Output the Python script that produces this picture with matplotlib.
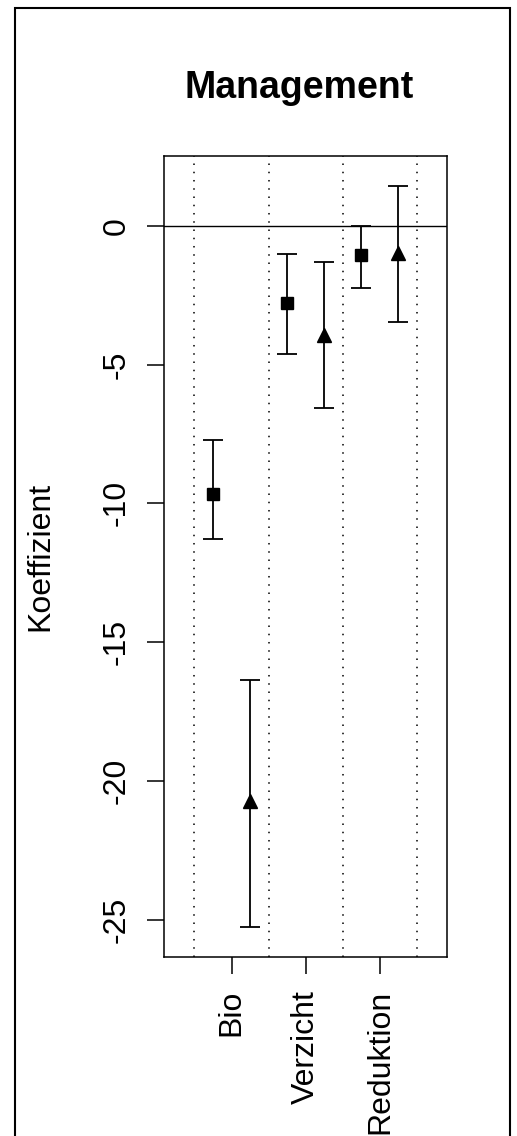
import matplotlib
matplotlib.use("Agg")
import matplotlib.pyplot as plt
from matplotlib.patches import Rectangle

plt.rcParams['font.family'] = ['Liberation Sans', 'DejaVu Sans']

# Daten
kategorien = ['Bio', 'Verzicht', 'Reduktion']
koef_quadrat = [-9.67, -2.77, -1.06]
unten_quadrat = [-11.29, -4.62, -2.23]
oben_quadrat = [-7.72, -1.02, -0.02]
koef_dreieck = [-20.7, -3.94, -0.98]
unten_dreieck = [-25.25, -6.56, -3.47]
oben_dreieck = [-16.36, -1.31, 1.44]
y_ticks = [0, -5, -10, -15, -20, -25]

pos = [1, 2, 3]
versatz = 0.25

fig = plt.figure(figsize=(5.17, 11.36), dpi=100)
ax = fig.add_axes([164 / 517, 1 - 956.7 / 1136, (446.7 - 164) / 517, (956.7 - 155.7) / 1136])

# Trennlinien und Nulllinie
for g in [0.5, 1.5, 2.5, 3.5]:
    ax.axvline(g, color='black', lw=1.1, linestyle=(0, (1, 4.4)))
ax.axhline(0, color='black', lw=1.0)

x1 = [p - versatz for p in pos]
x2 = [p + versatz for p in pos]
fehler1 = [[k - u for k, u in zip(koef_quadrat, unten_quadrat)],
           [o - k for k, o in zip(koef_quadrat, oben_quadrat)]]
fehler2 = [[k - u for k, u in zip(koef_dreieck, unten_dreieck)],
           [o - k for k, o in zip(koef_dreieck, oben_dreieck)]]

ax.errorbar(x1, koef_quadrat, yerr=fehler1, fmt='s', color='black', ms=8.5,
            capsize=7.2, elinewidth=1.3, capthick=1.3)
ax.errorbar(x2, koef_dreieck, yerr=fehler2, fmt='^', color='black', ms=10.5,
            capsize=7.2, elinewidth=1.3, capthick=1.3)

ax.set_xlim(0.09, 3.9)
ax.set_ylim(-26.32, 2.52)
ax.set_xticks(pos)
ax.set_xticklabels(kategorien, rotation=90, va='top', ha='center', fontsize=23)
ax.set_yticks(y_ticks)
ax.set_yticklabels([str(t) for t in y_ticks], rotation=90, va='center', fontsize=23)
ax.tick_params(axis='both', length=12, width=1.1, color='black')
ax.tick_params(axis='x', pad=12)
ax.tick_params(axis='y', pad=11)
for s in ax.spines.values():
    s.set_linewidth(1.1)

ax.set_ylabel('Koeffizient', fontsize=23)
ax.yaxis.set_label_coords(-0.385, 0.5)

fig.text(299 / 517, 1 - 98 / 1136, 'Management', ha='center', va='baseline',
         fontsize=27, fontweight='bold')

# Rahmen um die Grafik
fig.patches.append(Rectangle((15 / 517, -0.01), (510 - 15) / 517, 1.01 - 8 / 1136,
                             transform=fig.transFigure, fill=False, lw=1.5,
                             edgecolor='black'))

fig.savefig('out.png', dpi=100)
